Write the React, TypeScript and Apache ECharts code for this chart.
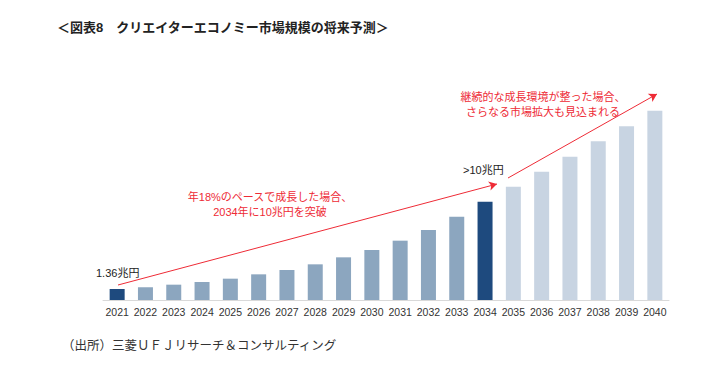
import React, { useEffect, useRef } from "react";
import * as echarts from "echarts";

const years = ["2021","2022","2023","2024","2025","2026","2027","2028","2029","2030","2031","2032","2033","2034","2035","2036","2037","2038","2039","2040"];
const marketSize = [1.32, 1.53, 1.84, 2.16, 2.56, 3.08, 3.6, 4.28, 5.12, 6.0, 7.12, 8.4, 10.0, 11.8, 13.6, 15.4, 17.2, 19.05, 20.85, 22.7];
const highlightYears = ["2021", "2034"];
const forecastStart = "2035";
const titleText = "＜図表8　クリエイターエコノミー市場規模の将来予測＞";
const sourceText = "（出所）三菱ＵＦＪリサーチ＆コンサルティング";
const note1 = ["年18%のペースで成長した場合、", "2034年に10兆円を突破"];
const note2 = ["継続的な成長環境が整った場合、", "さらなる市場拡大も見込まれる"];
const label2021 = "1.36兆円";
const label2034 = ">10兆円";

const DARK = "#1E4A7E";
const MID = "#8CA6BF";
const LIGHT = "#C8D4E2";
const RED = "#EE2B36";
const FONT = "'Liberation Sans', 'Noto Sans CJK JP', sans-serif";

export default function App() {
  const ref = useRef<HTMLDivElement>(null);
  useEffect(() => {
    if (!ref.current) return;
    const chart = echarts.init(ref.current, null, { renderer: "svg" });
    const fIdx = years.indexOf(forecastStart);
    const data = marketSize.map((v, i) => ({
      value: v,
      itemStyle: {
        color: highlightYears.includes(years[i]) ? DARK : i >= fIdx ? LIGHT : MID,
      },
    }));
    chart.setOption({
      animation: false,
      backgroundColor: "#ffffff",
      textStyle: { fontFamily: FONT },
      grid: { left: 103, right: 36, top: 100, bottom: 66 },
      xAxis: {
        type: "category",
        data: years,
        axisLine: { lineStyle: { color: "#D9D9D9", width: 1 } },
        axisTick: { show: false },
        axisLabel: { color: "#333333", fontSize: 10.5, margin: 7, fontFamily: FONT, interval: 0 },
      },
      yAxis: {
        type: "value",
        min: 0,
        max: 24,
        show: false,
        splitLine: { show: false },
      },
      series: [
        {
          type: "bar",
          data,
          barWidth: 15,
          silent: true,
          markLine: {
            silent: true,
            symbol: ["none", "arrow"],
            symbolSize: [7, 8],
            label: { show: false },
            lineStyle: { color: RED, width: 1, type: "solid" },
            data: [
              [{ x: 118, y: 285 }, { x: 497, y: 184 }],
              [{ x: 508, y: 178 }, { x: 657, y: 94 }],
            ],
          },
        },
      ],
      graphic: [
        {
          type: "text",
          left: 57,
          top: 21,
          style: { text: titleText, fontSize: 13, fontWeight: "bold", fill: "#222222", fontFamily: FONT },
        },
        {
          type: "text",
          left: 62,
          top: 340,
          style: { text: sourceText, fontSize: 12.5, fill: "#333333", fontFamily: FONT },
        },
        {
          type: "text",
          x: 270,
          y: 204,
          style: {
            text: note1.join("\n"),
            fontSize: 11,
            lineHeight: 15,
            fill: RED,
            align: "center",
            verticalAlign: "middle",
            fontFamily: FONT,
          },
        },
        {
          type: "text",
          x: 543,
          y: 104,
          style: {
            text: note2.join("\n"),
            fontSize: 11,
            lineHeight: 15,
            fill: RED,
            align: "center",
            verticalAlign: "middle",
            fontFamily: FONT,
          },
        },
        {
          type: "text",
          x: 96,
          y: 273,
          style: { text: label2021, fontSize: 11, fill: "#222222", verticalAlign: "middle", fontFamily: FONT },
        },
        {
          type: "text",
          x: 463,
          y: 170,
          style: { text: label2034, fontSize: 11, fill: "#222222", verticalAlign: "middle", fontFamily: FONT },
        },
      ],
    });
    return () => chart.dispose();
  }, []);
  return (
    <div
      ref={ref}
      style={{ position: "fixed", left: 0, top: 0, width: 705, height: 366, background: "#fff" }}
    />
  );
}
